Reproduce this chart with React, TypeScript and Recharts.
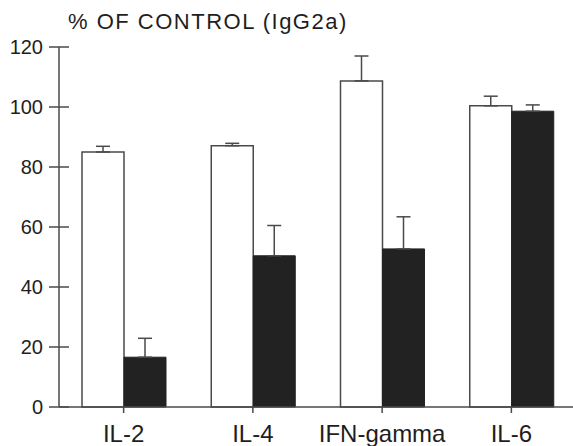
import React from 'react';
import { BarChart, Bar, XAxis, YAxis, ErrorBar } from 'recharts';

const categories = ['IL-2', 'IL-4', 'IFN-gamma', 'IL-6'];
const controlValues = [85, 87.1, 108.7, 100.4];
const controlErrors = [1.9, 0.8, 8.3, 3.2];
const treatedValues = [16.6, 50.4, 52.7, 98.6];
const treatedErrors = [6.3, 10.1, 10.7, 2.1];
const yTicks = [0, 20, 40, 60, 80, 100, 120];
const title = '% OF CONTROL (IgG2a)';

const data = categories.map((name, i) => ({
  name,
  control: controlValues[i],
  controlErr: [0, controlErrors[i]],
  treated: treatedValues[i],
  treatedErr: [0, treatedErrors[i]],
}));

const LINE = '#4a4a4a';
const TEXT = '#1e1e1e';
const FONT = '"Liberation Sans", Arial, Helvetica, sans-serif';

const YTick = (props: any) => {
  const { x, y, payload } = props;
  return (
    <g>
      <line x1={x - 10} x2={x + 10} y1={y} y2={y} stroke={LINE} strokeWidth={1.5} />
      <text x={x - 16} y={y + 7} textAnchor="end" fontSize={20} fontFamily={FONT} fill={TEXT}>
        {payload.value}
      </text>
    </g>
  );
};

const XTick = (props: any) => {
  const { x, y, payload } = props;
  return (
    <g>
      <line x1={x} x2={x} y1={y} y2={y + 6} stroke={LINE} strokeWidth={1.5} />
      <text x={x} y={y + 35} textAnchor="middle" fontSize={24} fontFamily={FONT} fill={TEXT}>
        {payload.value}
      </text>
    </g>
  );
};

export default function App() {
  return (
    <div style={{ position: 'absolute', left: 0, top: 0, width: 573, height: 446, overflow: 'hidden', background: '#fff' }}>
      <div
        style={{
          position: 'absolute',
          left: 68,
          top: 9,
          fontSize: 22,
          letterSpacing: 1.5,
          fontFamily: FONT,
          color: TEXT,
          whiteSpace: 'nowrap',
          lineHeight: '26px',
        }}
      >
        {title}
      </div>
      <BarChart
        width={576}
        height={446}
        data={data}
        margin={{ top: 47, right: 0, bottom: 0, left: 0 }}
        barGap={0}
        barSize={42}
      >
        <XAxis
          dataKey="name"
          height={39}
          tickSize={0}
          tickMargin={0}
          tickLine={false}
          axisLine={{ stroke: LINE, strokeWidth: 1.5 }}
          tick={<XTick />}
          interval={0}
        />
        <YAxis
          width={59}
          domain={[0, 120]}
          ticks={yTicks}
          tickSize={0}
          tickMargin={0}
          tickLine={false}
          axisLine={{ stroke: LINE, strokeWidth: 1.5 }}
          tick={<YTick />}
          interval={0}
        />
        <Bar dataKey="control" fill="#ffffff" stroke={LINE} strokeWidth={1.5} isAnimationActive={false}>
          <ErrorBar dataKey="controlErr" width={7} stroke={LINE} strokeWidth={1.5} direction="y" />
        </Bar>
        <Bar dataKey="treated" fill="#222222" stroke="#222222" strokeWidth={1} isAnimationActive={false}>
          <ErrorBar dataKey="treatedErr" width={7} stroke={LINE} strokeWidth={1.5} direction="y" />
        </Bar>
      </BarChart>
    </div>
  );
}
